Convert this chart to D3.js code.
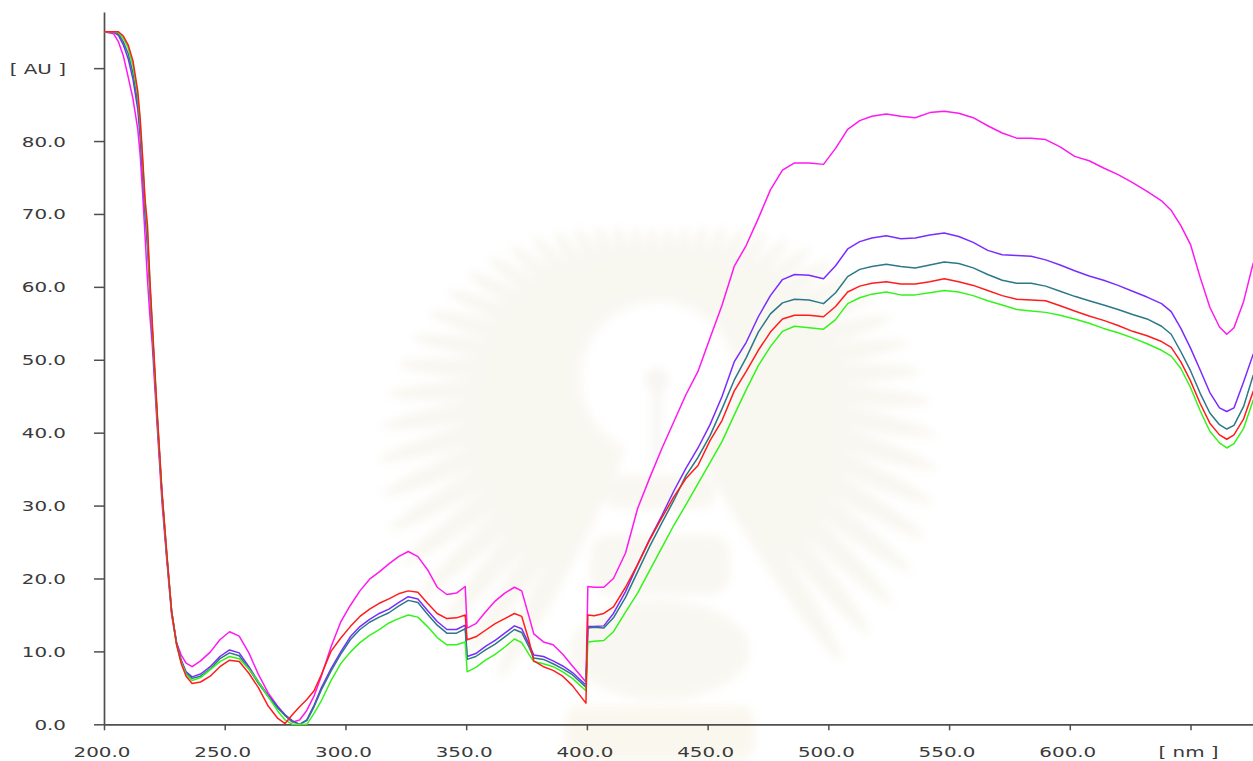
<!DOCTYPE html>
<html>
<head>
<meta charset="utf-8">
<script src="https://cdn.jsdelivr.net/npm/d3@7"></script>
<style>
  html, body { margin: 0; padding: 0; background: #ffffff; }
  svg { display: block; }
</style>
</head>
<body>
<svg id="chart" width="1253" height="761"></svg>
<script>
// Wavelength grid (nm)
const wavelengths = [
  200, 204, 206, 208, 210, 212, 214, 215, 216, 217, 218, 219, 220, 222, 224, 226, 228, 230, 232, 234, 236.5,
  240, 244, 248, 252, 256, 260, 264, 268, 272, 275, 278, 281, 284, 287, 290, 294, 298,
  302, 306, 310, 314, 318, 322, 326, 330, 334, 338, 342, 346, 349.6, 350.4, 354, 358, 362, 366, 370, 373, 376, 378, 382, 386, 390, 394, 399.6, 400.4,
  403, 407, 411, 416, 421, 426, 431, 436, 441, 446, 451, 456, 461, 466, 471, 476, 481, 486, 492, 498, 503,
  508, 513, 518, 524, 530, 536, 542, 548, 554, 560, 566, 572, 578, 584, 590, 596, 602, 608, 614, 620, 626, 632, 638, 642, 646, 650, 654, 658, 662, 665, 668, 672, 676
];

// Absorbance [AU] of each spectrum on that grid
const magentaSpectrum = [
  95, 94.7, 93.6, 91.7, 88.8, 85.8, 81.6, 78.0, 72.8, 67.0, 61.0, 56.0, 52.0, 41.0, 30.5, 22.5, 15.0, 11.2, 9.5, 8.4, 7.9,
  8.7, 9.9, 11.6, 12.7, 12.1, 9.8, 6.8, 4.3, 2.4, 1.2, 0.3, 0.6, 1.9, 3.9, 6.6, 10.6, 14.0,
  16.3, 18.3, 19.9, 20.9, 22.0, 23.0, 23.7, 23.0, 21.2, 18.8, 17.8, 18.0, 18.9, 13.2, 13.8, 15.4, 16.9, 18.0, 18.8, 18.3, 14.8, 12.4, 11.3, 10.9, 9.6, 8.0, 5.8, 18.9,
  18.8, 18.8, 20.0, 23.5, 29.6, 33.8, 37.8, 41.5, 45.2, 48.4, 53.0, 57.5, 62.8, 65.7, 69.4, 73.3, 76.0, 77.0, 77.0, 76.8, 79.0,
  81.6, 82.8, 83.4, 83.7, 83.4, 83.2, 83.9, 84.1, 83.8, 83.2, 82.1, 81.1, 80.4, 80.4, 80.2, 79.2, 77.9, 77.3, 76.3, 75.4, 74.3, 73.1, 71.8, 70.5, 68.4, 65.8, 61.3, 57.2, 54.5, 53.5, 54.4, 58.0, 63.3
];
const violetSpectrum = [
  95, 94.9, 94.5, 93.2, 91.3, 88.5, 84.3, 80.5, 75.5, 70.0, 65.5, 59.5, 53.5, 42.0, 31.5, 23.0, 15.5, 11.3, 8.8, 7.2, 6.5,
  6.9, 7.9, 9.3, 10.2, 9.8, 7.9, 5.8, 4.0, 2.4, 1.3, 0.5, 0.0, 0.6, 2.6, 5.0, 7.6, 9.9,
  12.0, 13.4, 14.4, 15.2, 15.8, 16.7, 17.5, 17.2, 15.6, 14.1, 13.0, 13.0, 13.6, 9.3, 9.7, 10.7, 11.5, 12.5, 13.5, 13.1, 11.0, 9.5, 9.3, 8.7, 8.0, 7.1, 5.4, 13.4,
  13.4, 13.5, 15.2, 18.2, 21.9, 25.4, 28.6, 32.0, 35.1, 37.9, 41.1, 45.0, 49.7, 52.4, 55.9, 58.8, 61.0, 61.7, 61.6, 61.1, 62.9,
  65.2, 66.2, 66.7, 67.0, 66.6, 66.7, 67.1, 67.4, 66.9, 66.1, 65.0, 64.4, 64.3, 64.2, 63.7, 63.0, 62.2, 61.5, 60.9, 60.2, 59.4, 58.6, 57.7, 56.6, 54.3, 51.6, 48.6, 45.5, 43.4, 42.9, 43.4, 47.0, 50.8
];
const tealSpectrum = [
  95, 95, 94.7, 93.6, 92.0, 89.3, 85.3, 81.5, 76.5, 71.0, 66.5, 60.0, 54.0, 42.3, 31.7, 23.2, 15.5, 11.2, 8.6, 7.0, 6.3,
  6.6, 7.6, 9.0, 9.8, 9.4, 7.6, 5.6, 3.8, 2.2, 1.2, 0.4, 0.0, 0.5, 2.4, 4.7, 7.3, 9.6,
  11.6, 13.0, 14.0, 14.7, 15.3, 16.2, 17.0, 16.7, 15.1, 13.6, 12.5, 12.5, 13.1, 8.9, 9.3, 10.2, 11.0, 12.0, 13.0, 12.6, 10.6, 9.1, 8.9, 8.3, 7.6, 6.8, 5.1, 13.2,
  13.3, 13.2, 14.6, 17.4, 20.9, 24.4, 27.6, 30.7, 34.1, 36.6, 39.6, 43.3, 47.2, 50.3, 53.8, 56.3, 57.8, 58.3, 58.2, 57.7, 59.2,
  61.4, 62.4, 62.8, 63.1, 62.8, 62.6, 63.0, 63.4, 63.2, 62.6, 61.7, 60.9, 60.5, 60.5, 60.1, 59.4, 58.7, 58.1, 57.5, 56.9, 56.2, 55.6, 54.6, 53.5, 51.1, 48.5, 45.4, 42.7, 41.1, 40.5, 41.0, 43.6, 47.9
];
const greenSpectrum = [
  95, 95, 94.9, 94.1, 92.8, 90.3, 86.2, 82.5, 77.2, 71.7, 67.5, 60.5, 54.5, 42.6, 31.8, 23.3, 15.5, 11.0, 8.5, 6.9, 6.0,
  6.4, 7.5, 8.6, 9.3, 9.0, 7.6, 5.8, 3.8, 1.8, 0.6, 0.0, 0.0, 0.0, 1.5, 3.2, 6.0, 8.3,
  9.9, 11.2, 12.2, 13.0, 13.9, 14.5, 15.0, 14.7, 13.4, 11.9, 10.9, 10.9, 11.3, 7.2, 7.8, 8.8, 9.6, 10.6, 11.7, 11.2, 9.6, 8.6, 8.3, 7.9, 7.2, 6.3, 4.6, 11.3,
  11.4, 11.5, 12.7, 15.4, 18.0, 21.1, 24.2, 27.3, 30.1, 33.0, 35.9, 38.8, 42.4, 45.9, 49.2, 51.8, 53.9, 54.6, 54.4, 54.2, 55.5,
  57.7, 58.5, 59.0, 59.3, 58.9, 58.9, 59.2, 59.5, 59.3, 58.8, 58.1, 57.5, 56.9, 56.7, 56.5, 56.1, 55.6, 55.0, 54.3, 53.7, 53.0, 52.2, 51.3, 50.5, 48.8, 46.2, 43.0, 40.2, 38.6, 37.9, 38.5, 40.6, 44.5
];
const redSpectrum = [
  95, 95, 95, 94.4, 93.2, 91.0, 86.8, 83.0, 77.8, 72.0, 68.5, 61.0, 55.0, 43.0, 32.0, 23.5, 15.5, 11.0, 8.3, 6.6, 5.6,
  5.8, 6.6, 7.9, 8.8, 8.6, 7.0, 5.0, 2.5, 0.8, 0.1, 1.3, 2.4, 3.4, 4.6, 6.8, 10.0, 11.8,
  13.4, 14.8, 15.8, 16.6, 17.2, 17.9, 18.3, 18.1, 16.6, 15.2, 14.5, 14.6, 15.0, 11.6, 12.0, 12.9, 13.8, 14.5, 15.2, 14.8, 11.5, 8.7, 7.9, 7.4, 6.6, 5.3, 2.9, 15.0,
  14.9, 15.2, 16.1, 18.8, 21.9, 25.3, 28.3, 31.2, 33.7, 35.5, 38.9, 41.7, 45.7, 48.4, 51.3, 53.8, 55.6, 56.1, 56.1, 55.9, 57.3,
  59.3, 60.1, 60.5, 60.7, 60.4, 60.4, 60.7, 61.1, 60.7, 60.2, 59.5, 58.8, 58.3, 58.2, 58.1, 57.4, 56.7, 56.0, 55.4, 54.7, 53.9, 53.3, 52.5, 51.7, 49.7, 47.1, 44.0, 41.3, 39.7, 39.1, 39.7, 41.9, 45.7
];

// Axis ticks and their labels
const xTickValues = [200, 250, 300, 350, 400, 450, 500, 550, 600, 650];
const xTickLabels = ["200.0", "250.0", "300.0", "350.0", "400.0", "450.0", "500.0", "550.0", "600.0", "[ nm ]"];
const yTickValues = [0, 10, 20, 30, 40, 50, 60, 70, 80, 90];
const yTickLabels = ["0.0", "10.0", "20.0", "30.0", "40.0", "50.0", "60.0", "70.0", "80.0", "[ AU ]"];

// Spectra in drawing order (last one on top)
const spectra = [
  { values: magentaSpectrum, color: "#ff19f0" },
  { values: violetSpectrum,  color: "#7a2cff" },
  { values: tealSpectrum,    color: "#2b7889" },
  { values: greenSpectrum,   color: "#33f41a" },
  { values: redSpectrum,     color: "#ff1c1c" }
];

const svg = d3.select("#chart");

const x = d3.scaleLinear().domain([200, 676]).range([104, 1253.3]);
const y = d3.scaleLinear().domain([0, 97.7]).range([724.3, 12]);

// ---------- faint background emblem ----------
const defs = svg.append("defs");
defs.append("filter").attr("id", "soft").attr("x", "-20%").attr("y", "-20%").attr("width", "140%").attr("height", "140%")
  .append("feGaussianBlur").attr("stdDeviation", 4);

const emblem = svg.append("g").attr("filter", "url(#soft)").attr("opacity", 0.16);
const ecx = 658, ecy = 378;
d3.range(-152, 153, 6.5).forEach(deg => {
  const t = deg * Math.PI / 180;
  const len = 150 + 200 * Math.pow((1 - Math.cos(t)) / 2, 0.8);
  const r0 = 74;
  emblem.append("ellipse")
    .attr("cx", 0).attr("cy", -(r0 + len) / 2)
    .attr("rx", 4 + len * 0.024).attr("ry", (len - r0) / 2)
    .attr("transform", `translate(${ecx},${ecy}) rotate(${deg})`)
    .attr("fill", "#d9cfa8");
});
// stem and base of the emblem
emblem.append("rect").attr("x", 652).attr("y", 372).attr("width", 10).attr("height", 95).attr("rx", 5).attr("fill", "#cfc8b4");
emblem.append("circle").attr("cx", 657).attr("cy", 380).attr("r", 12).attr("fill", "#cfc8b4");
emblem.append("rect").attr("x", 605).attr("y", 475).attr("width", 110).attr("height", 34).attr("rx", 14).attr("fill", "#ddd2aa");
emblem.append("rect").attr("x", 590).attr("y", 535).attr("width", 140).attr("height", 60).attr("rx", 20).attr("fill", "#ddd2aa");
emblem.append("ellipse").attr("cx", 660).attr("cy", 650).attr("rx", 90).attr("ry", 50).attr("fill", "#ddd2aa");
emblem.append("rect").attr("x", 565).attr("y", 705).attr("width", 190).attr("height", 56).attr("rx", 16).attr("fill", "#e2d39e");

// ---------- axes ----------
const axisColor = "#4f4f4f";
const labelColor = "#3a3a3a";
const stretch = 1.42;

const xAxis = d3.axisBottom(x)
  .tickValues(xTickValues)
  .tickSize(6)
  .tickSizeOuter(0)
  .tickFormat(() => "");
const gx = svg.append("g").attr("transform", `translate(0,${y(0)})`).call(xAxis);
gx.select(".domain").attr("stroke", axisColor).attr("stroke-width", 1.7);
gx.selectAll(".tick line").attr("stroke", axisColor).attr("stroke-width", 1.5);
gx.selectAll(".tick text").remove();
gx.selectAll(".tick").append("text")
  .attr("transform", `translate(-2.5,33) scale(${stretch},1)`)
  .attr("text-anchor", "middle")
  .attr("fill", labelColor)
  .style("font-family", "'DejaVu Sans', Verdana, sans-serif")
  .style("font-size", "14px")
  .text((d, i) => xTickLabels[i]);

const yAxis = d3.axisLeft(y)
  .tickValues(yTickValues)
  .tickSize(10)
  .tickSizeOuter(0)
  .tickFormat(() => "");
const gy = svg.append("g").attr("transform", `translate(${x(200)},0)`).call(yAxis);
gy.select(".domain").attr("stroke", axisColor).attr("stroke-width", 1.7);
gy.selectAll(".tick line").attr("stroke", axisColor).attr("stroke-width", 1.5);
gy.selectAll(".tick text").remove();
gy.selectAll(".tick").append("text")
  .attr("transform", `translate(-38,5) scale(${stretch},1)`)
  .attr("text-anchor", "end")
  .attr("fill", labelColor)
  .style("font-family", "'DejaVu Sans', Verdana, sans-serif")
  .style("font-size", "14px")
  .text((d, i) => yTickLabels[i]);

// ---------- spectra ----------
const line = d3.line()
  .x((d, i) => x(wavelengths[i]))
  .y(d => y(d));

svg.append("g")
  .selectAll("path")
  .data(spectra)
  .join("path")
  .attr("d", s => line(s.values))
  .attr("fill", "none")
  .attr("stroke", s => s.color)
  .attr("stroke-width", 1.5)
  .attr("stroke-linejoin", "round");
</script>
</body>
</html>
